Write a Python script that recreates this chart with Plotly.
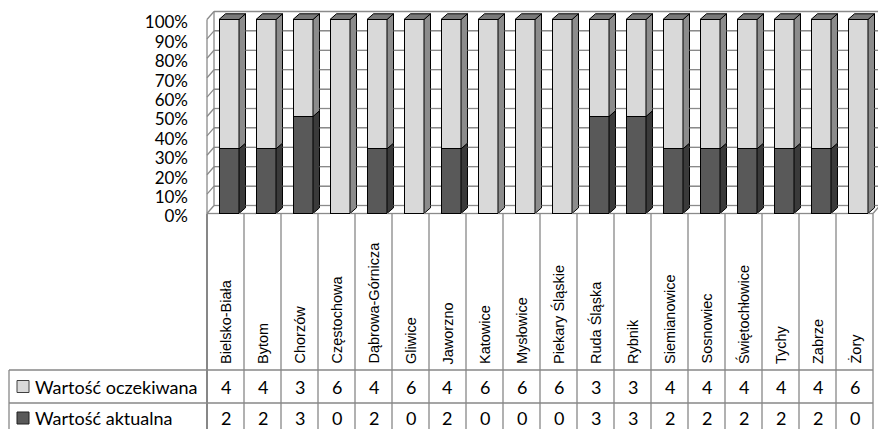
import plotly.graph_objects as go

# --- data -------------------------------------------------------------
cities = ["Bielsko-Biała", "Bytom", "Chorzów", "Częstochowa", "Dąbrowa-Górnicza",
          "Gliwice", "Jaworzno", "Katowice", "Mysłowice", "Piekary Śląskie",
          "Ruda Śląska", "Rybnik", "Siemianowice", "Sosnowiec", "Świętochłowice",
          "Tychy", "Zabrze", "Żory"]
expected = [4, 4, 3, 6, 4, 6, 4, 6, 6, 6, 3, 3, 4, 4, 4, 4, 4, 6]   # Wartość oczekiwana
actual = [2, 2, 3, 0, 2, 0, 2, 0, 0, 0, 3, 3, 2, 2, 2, 2, 2, 0]     # Wartość aktualna
series_names = ["Wartość oczekiwana", "Wartość aktualna"]
y_ticks = [0, 10, 20, 30, 40, 50, 60, 70, 80, 90, 100]
y_tick_text = [f"{t}%" for t in y_ticks]

# --- geometry / styling ------------------------------------------------
W, H = 878, 429
X0PX, XPITCH = 229.0, 37.0      # pixel centre of first column, pixel pitch per category
Y0PX, YSCALE = 213.5, 1.94      # pixel row of 0 %, pixels per percent
FRONT_PX = 207.0                # front edge of the left wall
WALL_DX_PX, WALL_DY_PX = 7.0, 8.0
BACK_PX = FRONT_PX + WALL_DX_PX  # back wall starts here (plot area left edge)

LIGHT, LIGHT_SIDE = "#d9d9d9", "#8c8c8c"
DARK, DARK_SIDE = "#595959", "#3a3a3a"
TOP = "#7a7a7a"
WALL = "#8a8a8a"
GRIDTAB = "#878787"
NUM_FONT = "Lato"
CAT_FONT = "Liberation Sans"


def xdata(px):
    return (px - X0PX) / XPITCH


def ydata(py):
    return (Y0PX - py) / YSCALE


def xp(v):
    """data x -> paper fraction"""
    return (X0PX + XPITCH * v) / W


def yp(y):
    """data y -> paper fraction"""
    return 1 - (Y0PX - YSCALE * y) / H


def ypaper(py):
    return 1 - py / H


n = len(cities)
idx = list(range(n))
bar_w = 20 / XPITCH
bdx, bdy = 6.5 / XPITCH, 5.7 / YSCALE                  # column depth offset
wdx, wdy = WALL_DX_PX / XPITCH, WALL_DY_PX / YSCALE    # wall depth offset
XL = xdata(FRONT_PX)
XRF = XL + n
X_RANGE = [xdata(BACK_PX), xdata(W)]
Y_RANGE = [ydata(H), ydata(0)]
back_ticks = [p + wdy for p in y_ticks]

fig = go.Figure()

# front faces: 100 % stacked columns
fig.add_trace(go.Bar(x=idx, y=actual, name=series_names[1], width=bar_w,
                     marker=dict(color=DARK, line=dict(color="black", width=1))))
fig.add_trace(go.Bar(x=idx, y=expected, name=series_names[0], width=bar_w,
                     marker=dict(color=LIGHT, line=dict(color="black", width=1))))

shapes = []


def pline(x0, y0, x1, y1, color=GRIDTAB, width=1.3):
    """line in paper coordinates, drawn above the plot"""
    shapes.append(dict(type="line", x0=x0, y0=y0, x1=x1, y1=y1, xref="paper",
                       yref="paper", line=dict(color=color, width=width), layer="above"))


def face(points, color):
    """closed polygon given in data units, drawn as a paper-space path"""
    d = "M " + " L ".join(f"{xp(x):.6f},{yp(y):.6f}" for x, y in points) + " Z"
    shapes.append(dict(type="path", path=d, xref="paper", yref="paper",
                       fillcolor=color, line=dict(color="black", width=1),
                       layer="above"))


# side and top faces of the 3-D columns
for i in idx:
    total = actual[i] + expected[i]
    pa = actual[i] / total * 100
    xl, xr = i - bar_w / 2, i + bar_w / 2
    if pa > 0:
        face([(xr, 0), (xr + bdx, bdy), (xr + bdx, pa + bdy), (xr, pa)], DARK_SIDE)
    face([(xr, pa), (xr + bdx, pa + bdy), (xr + bdx, 100 + bdy), (xr, 100)], LIGHT_SIDE)
    face([(xl, 100), (xr, 100), (xr + bdx, 100 + bdy), (xl + bdx, 100 + bdy)], TOP)


def visible_spans(x_start, x_end, blockers):
    spans, cur = [], x_start
    for b0, b1 in blockers:
        if b0 > cur:
            spans.append((cur, min(b0, x_end)))
        cur = max(cur, b1)
    if cur < x_end:
        spans.append((cur, x_end))
    return spans


# walls: left wall edges and diagonals, back-wall lines through the gaps
col_blocks = [(i - bar_w / 2, i + bar_w / 2 + bdx) for i in idx]
front_blocks = [(i - bar_w / 2, i + bar_w / 2) for i in idx]
x_end = xdata(W + 2)
for p, yb in zip(y_ticks, back_ticks):
    pline(xp(XL), yp(p), xp(XL + wdx), yp(yb), color=WALL)
    blockers = col_blocks if yb < 100 + bdy else []
    for a, b in visible_spans(XL + wdx, x_end, blockers):
        pline(xp(a), yp(yb), xp(b), yp(yb), color=WALL)
pline(xp(XL), yp(0), xp(XL), yp(100), color=WALL)
pline(xp(XL + wdx), yp(wdy), xp(XL + wdx), yp(100 + wdy), color=WALL)
pline(xp(XRF), yp(0), xp(XRF + wdx), yp(wdy), color=WALL)
for a, b in visible_spans(XL, XRF, front_blocks):
    pline(xp(a), yp(0), xp(b), yp(0), color=WALL)

# data table grid
row_lines_px = [370, 403]
for k in range(n + 1):
    pline(xp(XL + k), yp(0), xp(XL + k), 0, width=2 if k == 0 else 1.3)
for py in row_lines_px:
    pline(9 / W, ypaper(py), xp(XRF), ypaper(py))
pline(9 / W, ypaper(row_lines_px[0]), 9 / W, 0)

# legend keys inside the table header column
for py, fill, edge in [(386.5, LIGHT, "#404040"), (418.0, DARK, "#202020")]:
    shapes.append(dict(type="rect", xref="paper", yref="paper",
                       x0=17 / W, x1=29 / W, y0=ypaper(py + 6), y1=ypaper(py - 6),
                       fillcolor=fill, line=dict(color=edge, width=1)))

annotations = []
# category labels (rotated)
for i, c in enumerate(cities):
    annotations.append(dict(x=xp(XL + i + 0.5), y=ypaper(366), xref="paper",
                            yref="paper", text=c, textangle=-90, showarrow=False,
                            xanchor="center", yanchor="bottom",
                            font=dict(family=CAT_FONT, size=14.5, color="black")))
# table values
for row_vals, py in [(expected, 386.5), (actual, 418.0)]:
    for i, v in enumerate(row_vals):
        annotations.append(dict(x=xp(XL + i + 0.5), y=ypaper(py), xref="paper",
                                yref="paper", text=str(v), showarrow=False,
                                xanchor="center", yanchor="middle",
                                font=dict(family=NUM_FONT, size=18, color="black")))
# row headers
for name, py in [(series_names[0], 386.5), (series_names[1], 418.0)]:
    annotations.append(dict(x=33 / W, y=ypaper(py), xref="paper", yref="paper",
                            text=name, showarrow=False, xanchor="left", yanchor="middle",
                            font=dict(family=NUM_FONT, size=18, color="black")))

fig.update_layout(
    width=W, height=H, margin=dict(l=0, r=0, t=0, b=0),
    paper_bgcolor="white", plot_bgcolor="white",
    barmode="stack", barnorm="percent", showlegend=False,
    shapes=shapes, annotations=annotations,
    xaxis=dict(domain=[BACK_PX / W, 1], range=X_RANGE, visible=False, fixedrange=True),
    # gridlines sit on the back wall; labels are shifted down to the front plane
    yaxis=dict(domain=[0, 1], range=Y_RANGE, tickmode="array",
               tickvals=back_ticks, ticktext=y_tick_text,
               showgrid=True, gridcolor=WALL, gridwidth=1.3,
               zeroline=False, showline=False,
               ticks="", ticklabelstandoff=25, ticklabelshift=11, automargin=False,
               tickfont=dict(family=NUM_FONT, size=17, color="black"), fixedrange=True),
)

fig.write_html("out.html")
